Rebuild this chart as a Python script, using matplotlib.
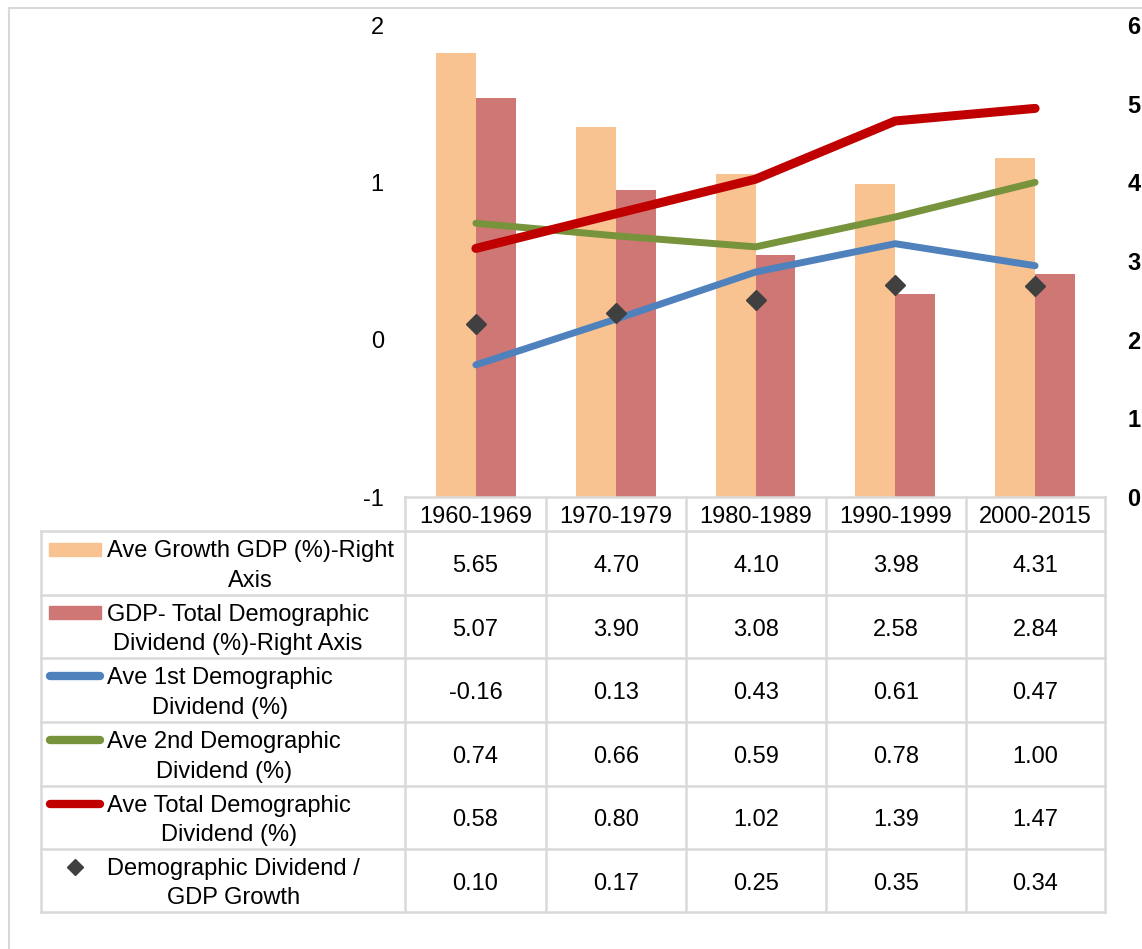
import matplotlib
matplotlib.use("Agg")
import matplotlib.pyplot as plt
from matplotlib.lines import Line2D
from matplotlib.patches import Rectangle

# DATA
periods = ["1960-1969", "1970-1979", "1980-1989", "1990-1999", "2000-2015"]
gdp_growth = [5.65, 4.70, 4.10, 3.98, 4.31]          # right axis
gdp_minus_total = [5.07, 3.90, 3.08, 2.58, 2.84]     # right axis
first_dividend = [-0.16, 0.13, 0.43, 0.61, 0.47]
second_dividend = [0.74, 0.66, 0.59, 0.78, 1.00]
total_dividend = [0.58, 0.80, 1.02, 1.39, 1.47]
dividend_ratio = [0.10, 0.17, 0.25, 0.35, 0.34]

labels = [
    "Ave Growth GDP (%)-Right\nAxis",
    "GDP- Total Demographic\nDividend (%)-Right Axis",
    "Ave 1st Demographic\nDividend (%)",
    "Ave 2nd Demographic\nDividend (%)",
    "Ave Total Demographic\nDividend (%)",
    "Demographic Dividend /\nGDP Growth",
]

# COLOURS
c_orange = "#F9C291"
c_rose = "#CE7774"
c_blue = "#4F81BD"
c_green = "#77933C"
c_red = "#C00000"
c_diamond = "#404040"
c_grid = "#D9D9D9"

plt.rcParams["font.family"] = ["Liberation Sans", "DejaVu Sans"]
plt.rcParams["axes.unicode_minus"] = False
FS = 17

W, H = 1142, 949
fig = plt.figure(figsize=(W / 100, H / 100), dpi=100)


def fx(x):
    return x / W


def fy(y):
    return 1 - y / H


# plot area in pixels
left, right, top, bottom = 406, 1105, 25, 497
ax = fig.add_axes([fx(left), fy(bottom), fx(right) - fx(left), fy(top) - fy(bottom)])
ax2 = ax.twinx()

n = len(periods)
xs = list(range(n))
bw = 40 / 140

# bars on the right axis
ax2.bar([x - bw / 2 for x in xs], gdp_growth, width=bw, color=c_orange, zorder=2)
ax2.bar([x + bw / 2 for x in xs], gdp_minus_total, width=bw, color=c_rose, zorder=2)
ax2.set_ylim(0, 6)
ax2.set_yticks(range(7))
ax2.set_yticks([2, 4, 6], minor=True)
ax2.grid(which="minor", color=c_grid, lw=1.5, zorder=0)
ax2.set_axisbelow(True)
ax2.tick_params(axis="y", which="both", length=0, pad=16, labelsize=FS)
for t in ax2.get_yticklabels():
    t.set_fontweight("bold")

# lines on the left axis, drawn above the bars
ax.set_zorder(ax2.get_zorder() + 1)
ax.patch.set_visible(False)
ax.plot(xs, first_dividend, color=c_blue, lw=5, solid_capstyle="round")
ax.plot(xs, second_dividend, color=c_green, lw=5, solid_capstyle="round")
ax.plot(xs, total_dividend, color=c_red, lw=6.5, solid_capstyle="round")
ax.plot(xs, dividend_ratio, ls="none", marker="D", ms=10, color=c_diamond)
ax.set_ylim(-1, 2)
ax.set_yticks([-1, 0, 1, 2])
ax.tick_params(axis="y", length=0, pad=16, labelsize=FS)
ax.set_xlim(-0.5, n - 0.5)
for a in (ax, ax2):
    for s in a.spines.values():
        s.set_visible(False)
    a.set_xticks([])


# TABLE
def hline(y, x0, x1):
    fig.add_artist(Line2D([fx(x0), fx(x1)], [fy(y), fy(y)], color=c_grid, lw=1.8))


def vline(x, y0, y1):
    fig.add_artist(Line2D([fx(x), fx(x)], [fy(y0), fy(y1)], color=c_grid, lw=1.8))


tab_left = 41
col_edges = [405, 546, 686, 826, 966, 1105]
row_edges = [531, 595, 658, 722, 786, 849, 912]
dy = 3  # text sits a little low in the cells

hline(bottom, col_edges[0], col_edges[-1])
for y in row_edges:
    hline(y, tab_left, col_edges[-1])
vline(tab_left, row_edges[0], row_edges[-1])
for x in col_edges:
    vline(x, bottom, row_edges[-1])

# header row
for i, p in enumerate(periods):
    cx = (col_edges[i] + col_edges[i + 1]) / 2
    fig.text(fx(cx), fy((bottom + row_edges[0]) / 2 + dy), p, ha="center", va="center", fontsize=FS)

rows = [gdp_growth, gdp_minus_total, first_dividend, second_dividend, total_dividend, dividend_ratio]
for r, vals in enumerate(rows):
    cy = (row_edges[r] + row_edges[r + 1]) / 2 + dy
    fig.text(fx(107), fy(cy), labels[r], ha="left", va="center", multialignment="center",
             fontsize=FS, linespacing=1.42)
    for i, v in enumerate(vals):
        cx = (col_edges[i] + col_edges[i + 1]) / 2
        fig.text(fx(cx), fy(cy), "{:.2f}".format(v), ha="center", va="center", fontsize=FS)

# legend keys
key_y = [(row_edges[r] + row_edges[r + 1]) / 2 - 14 for r in range(6)]
fig.add_artist(Rectangle((fx(49), fy(key_y[0] + 6.5)), fx(101) - fx(49), 13 / H,
                         transform=fig.transFigure, color=c_orange))
fig.add_artist(Rectangle((fx(49), fy(key_y[1] + 6.5)), fx(101) - fx(49), 13 / H,
                         transform=fig.transFigure, color=c_rose))
for r, c in zip([2, 3, 4], [c_blue, c_green, c_red]):
    fig.add_artist(Line2D([fx(50), fx(100)], [fy(key_y[r]), fy(key_y[r])], color=c,
                          lw=6, solid_capstyle="round"))
fig.add_artist(Line2D([fx(75)], [fy(key_y[5])], marker="D", ms=8, color=c_diamond, ls="none"))

# outer frame
fig.add_artist(Line2D([fx(9), fx(W)], [fy(8), fy(8)], color=c_grid, lw=1.5))
fig.add_artist(Line2D([fx(9), fx(9)], [fy(8), fy(H)], color=c_grid, lw=1.5))

fig.savefig("out.png", dpi=100)
